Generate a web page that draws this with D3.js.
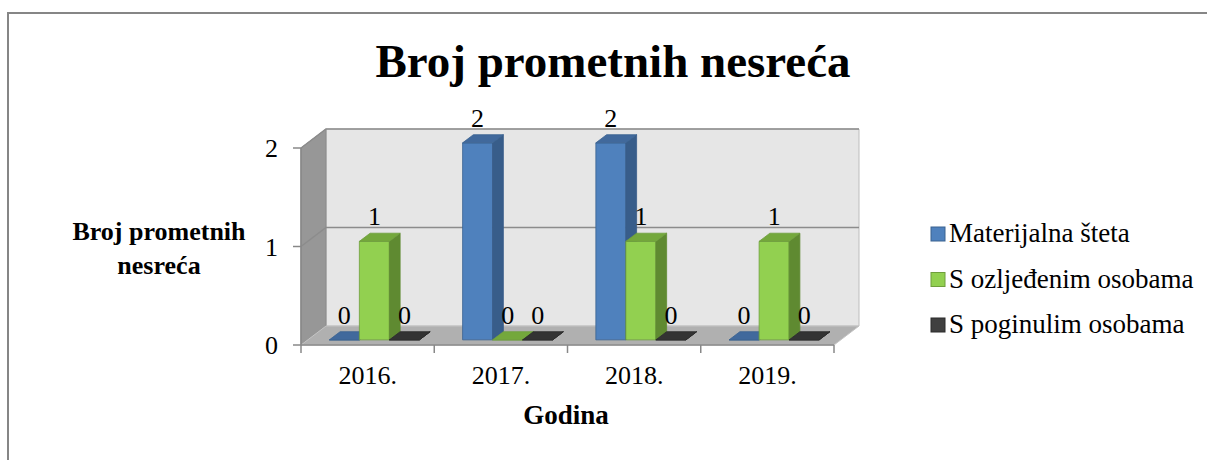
<!DOCTYPE html>
<html>
<head>
<meta charset="utf-8">
<script src="https://cdn.jsdelivr.net/npm/d3@7"></script>
<style>
  body { margin: 0; background: #fff; }
</style>
</head>
<body>
<div id="chart"></div>
<script>
// data
var categories = ["2016.", "2017.", "2018.", "2019."];
var series_names = ["Materijalna šteta", "S ozljeđenim osobama", "S poginulim osobama"];
var materijalna_steta = [0, 2, 2, 0];
var s_ozlijedenim = [1, 0, 1, 1];
var s_poginulim = [0, 0, 0, 0];
var y_ticks = [0, 1, 2];
var series_values = [materijalna_steta, s_ozlijedenim, s_poginulim];

// colours per series: front, side, top
var colors = [
    { front: '#4f81bd', side: '#385d8a', top: '#41699c', edge: '#3a6290' },
    { front: '#92d050', side: '#5f8a31', top: '#74a83c', edge: '#6f9e3c' },
    { front: '#404040', side: '#262626', top: '#333333', edge: '#2a2a2a' }
];
var FONT = "Liberation Serif";

var width = 1207, height = 460;
var svg = d3.select('#chart').append('svg').attr('width', width).attr('height', height)
    .attr('font-family', FONT).style('font-family', FONT);

// outer frame (runs past the right/bottom edge like the picture)
svg.append('rect').attr('x', 8).attr('y', 13).attr('width', 1230).attr('height', 500)
    .attr('fill', 'none').attr('stroke', '#868686').attr('stroke-width', 2);

// 3d projection: front plane + depth offset
var DX = 25, DY = 19;
var x_scale = d3.scaleBand().domain(categories).range([301, 834]);
var y_scale = d3.scaleLinear().domain([0, 2]).range([345, 148]);
var sub_scale = d3.scaleBand().domain(series_names).range([0, x_scale.bandwidth()])
    .paddingInner(0).paddingOuter(0.72);
var x0 = x_scale.range()[0], x1 = x_scale.range()[1];
var y_max = y_scale.domain()[1];
function p(xf, v, z) { return [xf + DX * z, y_scale(v) - DY * z]; }
function poly(pts) { return 'M' + pts.map(d => d[0] + ',' + d[1]).join('L') + 'Z'; }
function txt(g) { return g.append('text').style('font-family', FONT).attr('fill', '#000'); }

var walls = svg.append('g').attr('class', 'walls');
// back wall
walls.append('path').attr('d', poly([p(x0, 0, 1), p(x0, y_max, 1), p(x1, y_max, 1), p(x1, 0, 1)]))
    .attr('fill', '#e6e6e6').attr('stroke', '#bdbdbd').attr('stroke-width', 1);
// left wall
walls.append('path').attr('d', poly([p(x0, 0, 0), p(x0, y_max, 0), p(x0, y_max, 1), p(x0, 0, 1)]))
    .attr('fill', '#979797').attr('stroke', '#8a8a8a').attr('stroke-width', 1);
// floor
walls.append('path').attr('d', poly([p(x0, 0, 0), p(x0, 0, 1), p(x1, 0, 1), p(x1, 0, 0)]))
    .attr('fill', '#b0b0b0').attr('stroke', '#c4c4c4').attr('stroke-width', 1);

// gridlines over left wall + back wall
y_ticks.filter(t => t > 0).forEach(t => {
    var a = p(x0, t, 0), b = p(x0, t, 1), c = p(x1, t, 1);
    walls.append('path').attr('d', 'M' + a + 'L' + b + 'L' + c)
        .attr('fill', 'none').attr('stroke', '#8c8c8c').attr('stroke-width', 1.5);
});

// y axis line + ticks
var axis_g = svg.append('g').attr('class', 'axes');
axis_g.append('line').attr('x1', x0).attr('x2', x0).attr('y1', y_scale(y_max)).attr('y2', y_scale(0))
    .attr('stroke', '#888').attr('stroke-width', 1.5);
y_ticks.forEach(t => {
    axis_g.append('line').attr('x1', x0 - 8).attr('x2', x0).attr('y1', y_scale(t)).attr('y2', y_scale(t))
        .attr('stroke', '#888').attr('stroke-width', 1.5);
    txt(axis_g).attr('x', x0 - 23).attr('y', y_scale(t)).attr('dy', '0.35em')
        .attr('text-anchor', 'end').style('font-size', '26px').text(t);
});
// x axis line + ticks
axis_g.append('line').attr('x1', x0).attr('x2', x1).attr('y1', y_scale(0)).attr('y2', y_scale(0))
    .attr('stroke', '#888').attr('stroke-width', 1.5);
categories.forEach((c, i) => {
    var tx = x_scale(c);
    axis_g.append('line').attr('x1', tx).attr('x2', tx).attr('y1', y_scale(0)).attr('y2', y_scale(0) + 8)
        .attr('stroke', '#888').attr('stroke-width', 1.5);
    txt(axis_g).attr('x', tx + x_scale.bandwidth() / 2).attr('y', 384)
        .attr('text-anchor', 'middle').style('font-size', '26px').text(c);
});
axis_g.append('line').attr('x1', x1).attr('x2', x1).attr('y1', y_scale(0)).attr('y2', y_scale(0) + 8)
    .attr('stroke', '#888').attr('stroke-width', 1.5);

// bars (left to right so later fronts cover earlier sides)
var Z0 = 0.27, Z1 = 0.7;
var bars_g = svg.append('g').attr('class', 'bars');
var labels = [];
categories.forEach((c, i) => {
    series_names.forEach((s, j) => {
        var v = series_values[j][i];
        var col = colors[j];
        var bx = x_scale(c) + sub_scale(s);
        var bw = sub_scale.bandwidth();
        bars_g.append('path').attr('d', poly([p(bx, 0, Z0), p(bx, v, Z0), p(bx + bw, v, Z0), p(bx + bw, 0, Z0)]))
            .attr('fill', col.front).attr('stroke', col.edge).attr('stroke-width', 0.8);
        bars_g.append('path').attr('d', poly([p(bx + bw, 0, Z0), p(bx + bw, v, Z0), p(bx + bw, v, Z1), p(bx + bw, 0, Z1)]))
            .attr('fill', col.side).attr('stroke', col.side).attr('stroke-width', 0.8);
        bars_g.append('path').attr('d', poly([p(bx, v, Z0), p(bx + bw, v, Z0), p(bx + bw, v, Z1), p(bx, v, Z1)]))
            .attr('fill', col.top).attr('stroke', col.edge).attr('stroke-width', 0.8);
        var top_back = p(bx, v, Z1);
        // label sits over the centre of the front face
        labels.push({ x: p(bx + bw / 2, v, Z0)[0], y: top_back[1] - 8, text: v });
    });
});
var label_g = svg.append('g').attr('class', 'labels');
labels.forEach(d => {
    txt(label_g).attr('x', d.x).attr('y', d.y).attr('text-anchor', 'middle')
        .style('font-size', '26px').text(d.text);
});

// titles
txt(svg).attr('x', 613).attr('y', 77).attr('text-anchor', 'middle')
    .style('font-size', '47px').style('font-weight', 'bold').text('Broj prometnih nesreća');
txt(svg).attr('x', 566).attr('y', 424).attr('text-anchor', 'middle')
    .style('font-size', '27px').style('font-weight', 'bold').text('Godina');
var y_title = txt(svg).attr('text-anchor', 'middle').style('font-size', '26px').style('font-weight', 'bold');
y_title.append('tspan').attr('x', 159).attr('y', 240).text('Broj prometnih');
y_title.append('tspan').attr('x', 159).attr('y', 274).text('nesreća');

// legend
var legend_g = svg.append('g').attr('class', 'legend');
series_names.forEach((s, j) => {
    var by = 242 + j * 45.5;
    legend_g.append('rect').attr('x', 931).attr('y', by - 15).attr('width', 14).attr('height', 14)
        .attr('fill', colors[j].front).attr('stroke', colors[j].edge).attr('stroke-width', 1);
    txt(legend_g).attr('x', 949).attr('y', by).style('font-size', '27px').text(s);
});
</script>
</body>
</html>
